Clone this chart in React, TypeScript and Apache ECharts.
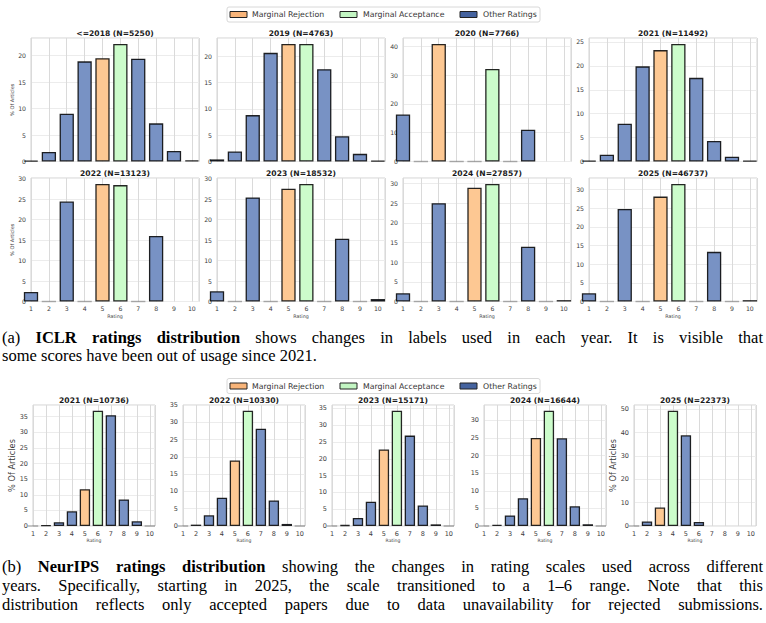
import React, { useEffect, useRef } from 'react';
import * as echarts from 'echarts';

// ---------------- DATA ----------------
const RATINGS = [1, 2, 3, 4, 5, 6, 7, 8, 9, 10];

const ICLR_TITLES = [
  '<=2018 (N=5250)', '2019 (N=4763)', '2020 (N=7766)', '2021 (N=11492)',
  '2022 (N=13123)', '2023 (N=18532)', '2024 (N=27857)', '2025 (N=46737)',
];
const ICLR_LE2018 = [0.15, 1.8, 9.0, 18.9, 19.5, 22.2, 19.4, 7.2, 2.0, 0.2];
const ICLR_2019 = [0.4, 1.9, 8.8, 20.6, 22.3, 22.3, 17.5, 4.8, 1.45, 0.15];
const ICLR_2020 = [16.3, 0, 40.8, 0, 0, 32.1, 0, 11.0, null, null];
const ICLR_2021 = [0.15, 1.4, 7.9, 19.9, 23.3, 24.6, 17.5, 4.3, 1.0, 0.15];
const ICLR_2022 = [2.3, 0, 24.4, 0, 28.7, 28.4, 0, 16.0, null, null];
const ICLR_2023 = [2.5, 0, 25.4, 0, 27.5, 28.7, 0, 15.3, 0, 0.6];
const ICLR_2024 = [2.1, 0, 25.0, 0, 28.9, 29.9, 0, 13.9, 0, 0.35];
const ICLR_2025 = [2.2, 0, 24.8, 0, 28.1, 31.5, 0, 13.3, 0, 0.36];
const ICLR_VALUES = [ICLR_LE2018, ICLR_2019, ICLR_2020, ICLR_2021, ICLR_2022, ICLR_2023, ICLR_2024, ICLR_2025];
const ICLR_REJ = [5, 5, 3, 5, 5, 5, 5, 5];
const ICLR_ACC = [6, 6, 6, 6, 6, 6, 6, 6];
const ICLR_Y_STEP = [5, 5, 10, 5, 5, 5, 5, 5];

const NEURIPS_TITLES = ['2021 (N=10736)', '2022 (N=10330)', '2023 (N=15171)', '2024 (N=16644)', '2025 (N=22373)'];
const NEURIPS_2021 = [0, 0.2, 1.2, 4.7, 11.8, 36.9, 35.5, 8.5, 1.5, 0];
const NEURIPS_2022 = [0, 0.4, 3.1, 8.2, 19.0, 33.4, 28.2, 7.4, 0.6, 0];
const NEURIPS_2023 = [0, 0.3, 2.4, 7.2, 22.8, 34.3, 26.9, 6.1, 0.5, 0];
const NEURIPS_2024 = [0, 0.3, 3.0, 7.9, 25.0, 32.7, 24.9, 5.6, 0.5, 0];
const NEURIPS_2025 = [0, 1.9, 7.9, 49.4, 38.9, 1.7, null, null, null, null];
const NEURIPS_VALUES = [NEURIPS_2021, NEURIPS_2022, NEURIPS_2023, NEURIPS_2024, NEURIPS_2025];
const NEURIPS_REJ = [5, 5, 5, 5, 3];
const NEURIPS_ACC = [6, 6, 6, 6, 4];
const NEURIPS_Y_STEP = [5, 5, 5, 5, 10];

const LEGEND_LABELS = ['Marginal Rejection', 'Marginal Acceptance', 'Other Ratings'];

const CAPTION_A = [
  [{ t: '(a) ' }, { t: 'ICLR ratings distribution', b: true }, { t: ' shows changes in labels used in each year. It is visible that' }],
  [{ t: 'some scores have been out of usage since 2021.' }],
];
const CAPTION_B = [
  [{ t: '(b) ' }, { t: 'NeurIPS ratings distribution', b: true }, { t: ' showing the changes in rating scales used across different' }],
  [{ t: 'years. Specifically, starting in 2025, the scale transitioned to a 1–6 range. Note that this' }],
  [{ t: 'distribution reflects only accepted papers due to data unavailability for rejected submissions.' }],
];

// ---------------- STYLE ----------------
const C_REJ = '#fdc893';
const C_ACC = '#ccfccb';
const C_OTHER = '#7892c4';
const L_REJ = '#f8b479';
const L_ACC = '#c2f5c2';
const L_OTHER = '#45639f';
const FONT = 'DejaVu Sans';
const SERIF = 'Liberation Serif';
const X_MIN = 1;
const X_MAX = 10.4;

type Seg = { t: string; b?: boolean };

export default function App() {
  const ref = useRef<HTMLDivElement>(null);

  useEffect(() => {
    const chart = echarts.init(ref.current!, null, { renderer: 'svg' });

    const grids: any[] = [];
    const xAxes: any[] = [];
    const yAxes: any[] = [];
    const series: any[] = [];
    const graphics: any[] = [];

    type Spec = {
      title: string; values: (number | null)[]; rej: number; acc: number; step: number;
      left: number; top: number; width: number; height: number;
      showX: boolean; yName: boolean; tickSize: number; yNameSize: number; yNameGap: number;
      xNameSize: number; xNameGap: number;
    };
    const specs: Spec[] = [];

    const TOP_LEFTS = [31, 217, 403, 589];
    const TOP_TOPS = [38, 178];
    ICLR_TITLES.forEach((title, i) => {
      const row = Math.floor(i / 4);
      const col = i % 4;
      specs.push({
        title, values: ICLR_VALUES[i], rej: ICLR_REJ[i], acc: ICLR_ACC[i], step: ICLR_Y_STEP[i],
        left: TOP_LEFTS[col], top: TOP_TOPS[row], width: 168, height: 123.5,
        showX: row === 1, yName: col === 0, tickSize: 6.2, yNameSize: 5, yNameGap: 15,
        xNameSize: 4.8, xNameGap: 12,
      });
    });
    const BOT_LEFTS = [33, 183, 332, 484, 634];
    NEURIPS_TITLES.forEach((title, i) => {
      specs.push({
        title, values: NEURIPS_VALUES[i], rej: NEURIPS_REJ[i], acc: NEURIPS_ACC[i], step: NEURIPS_Y_STEP[i],
        left: BOT_LEFTS[i], top: 405, width: 122, height: 121,
        showX: true, yName: i === 0 || i === 4, tickSize: 6.5, yNameSize: 8.2, yNameGap: 13,
        xNameSize: 4.6, xNameGap: 12,
      });
    });

    specs.forEach((s, k) => {
      const vals = s.values.filter((v) => v != null) as number[];
      const ymax = Math.max(...vals) * 1.05;
      const unit = s.width / (X_MAX - X_MIN);
      grids.push({
        left: s.left, top: s.top, width: s.width, height: s.height,
        show: true, borderColor: '#d2d2d2', borderWidth: 1, backgroundColor: '#ffffff',
      });
      xAxes.push({
        type: 'value', gridIndex: k, min: X_MIN, max: X_MAX, interval: 1,
        axisLine: { show: false }, axisTick: { show: false },
        axisLabel: { show: s.showX, fontSize: s.tickSize, color: '#3c3c3c', margin: 4, fontFamily: FONT, showMaxLabel: false },
        splitLine: { show: true, lineStyle: { color: '#dadada', width: 1 } },
        name: s.showX ? 'Rating' : '', nameLocation: 'middle', nameGap: s.xNameGap,
        nameTextStyle: { fontSize: s.xNameSize, color: '#3c3c3c', fontFamily: FONT },
      });
      yAxes.push({
        type: 'value', gridIndex: k, min: 0, max: ymax, interval: s.step,
        axisLine: { show: false }, axisTick: { show: false },
        axisLabel: { fontSize: s.tickSize, color: '#3c3c3c', margin: 5, fontFamily: FONT, showMaxLabel: false },
        splitLine: { show: true, lineStyle: { color: '#ececec', width: 1 } },
        name: s.yName ? '% Of Articles' : '', nameLocation: 'middle', nameGap: s.yNameGap, nameRotate: 90,
        nameTextStyle: { fontSize: s.yNameSize, color: '#3c3c3c', fontFamily: FONT },
      });
      const data: any[] = [];
      s.values.forEach((v, j) => {
        if (v == null) return;
        const r = RATINGS[j];
        const color = r === s.rej ? C_REJ : r === s.acc ? C_ACC : C_OTHER;
        data.push({
          value: [r, v],
          itemStyle: { color, borderColor: v === 0 ? 'rgba(0,0,0,0.3)' : 'rgba(0,0,0,0.85)' },
        });
      });
      series.push({
        type: 'bar', xAxisIndex: k, yAxisIndex: k, barWidth: unit * 0.8, clip: true, silent: true,
        itemStyle: { borderWidth: 1.3 }, data,
      });
      graphics.push({
        type: 'text', x: s.left + s.width / 2, y: s.top - 4.5, silent: true,
        style: {
          text: s.title, fontFamily: FONT, fontSize: 7.6, fontWeight: 'bold', fill: '#1a1a1a',
          textAlign: 'center', align: 'center', textVerticalAlign: 'middle', verticalAlign: 'middle',
        },
      });
    });

    // Legends
    const legend = (cy: number) => {
      graphics.push({
        type: 'rect', silent: true, shape: { x: 227, y: cy - 7.5, width: 313, height: 15, r: 2 },
        style: { fill: '#ffffff', stroke: '#d8d8d8', lineWidth: 1 },
      });
      const px = [230, 340, 460];
      const tx = [252, 363, 483];
      const cols = [L_REJ, L_ACC, L_OTHER];
      LEGEND_LABELS.forEach((lab, i) => {
        graphics.push({
          type: 'rect', silent: true, shape: { x: px[i], y: cy - 3, width: 17, height: 6 },
          style: { fill: cols[i], stroke: '#222', lineWidth: 1 },
        });
        graphics.push({
          type: 'text', silent: true, x: tx[i], y: cy,
          style: {
            text: lab, fontFamily: FONT, fontSize: 7.8, fill: '#333',
            textAlign: 'left', align: 'left', textVerticalAlign: 'middle', verticalAlign: 'middle',
          },
        });
      });
    };
    legend(14.5);
    legend(386);

    // Captions (justified words)
    const CAP_SIZE = 16.5;
    const X0 = 2;
    const X1 = 763;
    const canvas = document.createElement('canvas');
    const ctx = canvas.getContext('2d')!;
    const measure = (t: string, b: boolean) => {
      ctx.font = `${b ? 'bold ' : ''}${CAP_SIZE}px "${SERIF}"`;
      return ctx.measureText(t).width;
    };
    const captionLine = (segs: Seg[], y: number, justify: boolean) => {
      const words: { t: string; b: boolean }[] = [];
      segs.forEach((s) => s.t.split(' ').filter((w) => w).forEach((w) => words.push({ t: w, b: !!s.b })));
      const widths = words.map((w) => measure(w.t, w.b));
      const total = widths.reduce((a, b) => a + b, 0);
      const gap = justify ? (X1 - X0 - total) / (words.length - 1) : measure(' ', false);
      let x = X0;
      words.forEach((w, i) => {
        graphics.push({
          type: 'text', silent: true, x, y,
          style: {
            text: w.t, fontFamily: SERIF, fontSize: CAP_SIZE, fontWeight: w.b ? 'bold' : 'normal', fill: '#000',
            textAlign: 'left', align: 'left', textVerticalAlign: 'middle', verticalAlign: 'middle',
          },
        });
        x += widths[i] + gap;
      });
    };
    captionLine(CAPTION_A[0] as Seg[], 337, true);
    captionLine(CAPTION_A[1] as Seg[], 355, false);
    captionLine(CAPTION_B[0] as Seg[], 566, true);
    captionLine(CAPTION_B[1] as Seg[], 585, true);
    captionLine(CAPTION_B[2] as Seg[], 604, true);

    chart.setOption({
      animation: false,
      backgroundColor: '#ffffff',
      textStyle: { fontFamily: FONT },
      grid: grids,
      xAxis: xAxes,
      yAxis: yAxes,
      series,
      graphic: { elements: graphics },
    });

    return () => chart.dispose();
  }, []);

  return (
    <div
      ref={ref}
      style={{ position: 'fixed', left: 0, top: 0, width: 766, height: 623, background: '#fff' }}
    />
  );
}
